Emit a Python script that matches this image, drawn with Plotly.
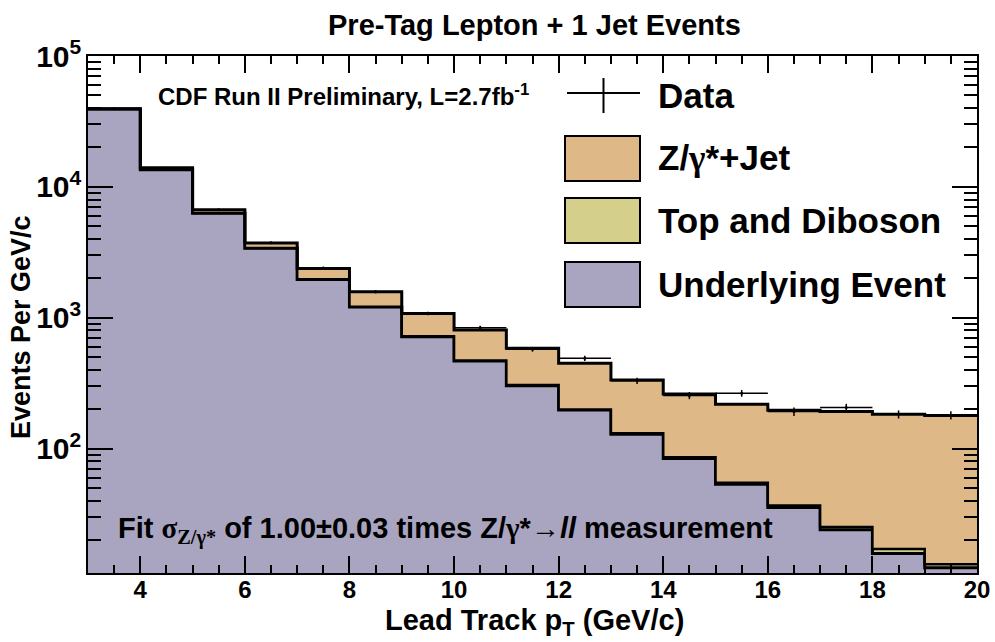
import plotly.graph_objects as go

# ---------------- data ----------------
bin_edges = [3, 4, 5, 6, 7, 8, 9, 10, 11, 12, 13, 14, 15, 16, 17, 18, 19, 20]
bin_centers = [3.5, 4.5, 5.5, 6.5, 7.5, 8.5, 9.5, 10.5, 11.5, 12.5, 13.5, 14.5,
               15.5, 16.5, 17.5, 18.5, 19.5]
underlying_event = [39300, 13500, 6300, 3400, 1960, 1210, 716, 467, 303, 197,
                    129, 84, 53.5, 35.5, 24, 15.8, 12.3]
top_diboson = [30, 20, 14, 10, 8, 6, 5, 4, 3, 2.5, 2, 1.8, 1.5, 1.3, 1.2, 1.3, 0.8]
z_jet = [250, 480, 386, 310, 412, 364, 359, 334, 278, 250, 203, 176, 163, 160,
         167, 166, 166]
data_vals = [39500, 13900, 6700, 3750, 2400, 1580, 1080, 840, 575, 490, 330,
             255, 265, 192, 206, 183, 180]
data_err = [200, 120, 80, 60, 50, 40, 33, 29, 24, 22, 18, 16, 16, 14, 14, 13, 13]

# ---------------- styles ----------------
C_UE = "#A9A5C0"
C_TD = "#D4CF8A"
C_Z = "#DEB887"
FONT = "Liberation Sans"
SERIF = "Liberation Serif"

# stacked cumulative values
cum_ue = list(underlying_event)
cum_td = [a + b for a, b in zip(cum_ue, top_diboson)]
cum_z = [a + b for a, b in zip(cum_td, z_jet)]


def step(vals):
    return list(vals) + [vals[-1]]


fig = go.Figure()
# baseline below the visible range for filling
fig.add_trace(go.Scatter(x=bin_edges, y=[1] * len(bin_edges), mode="lines",
                         line=dict(width=0, shape="hv"), hoverinfo="skip",
                         showlegend=False))
fig.add_trace(go.Scatter(x=bin_edges, y=step(cum_ue), mode="lines",
                         line=dict(color="black", width=3, shape="hv"),
                         fill="tonexty", fillcolor=C_UE, name="Underlying Event",
                         showlegend=False))
fig.add_trace(go.Scatter(x=bin_edges, y=step(cum_td), mode="lines",
                         line=dict(color="black", width=2.5, shape="hv"),
                         fill="tonexty", fillcolor=C_TD, name="Top and Diboson",
                         showlegend=False))
fig.add_trace(go.Scatter(x=bin_edges, y=step(cum_z), mode="lines",
                         line=dict(color="black", width=3, shape="hv"),
                         fill="tonexty", fillcolor=C_Z, name="Z/γ*+Jet",
                         showlegend=False))
fig.add_trace(go.Scatter(x=bin_centers, y=data_vals, mode="markers",
                         marker=dict(color="black", size=3),
                         error_x=dict(type="constant", value=0.5, width=0,
                                      thickness=1.5, color="black"),
                         error_y=dict(type="data", array=data_err, width=0,
                                      thickness=1.5, color="black"),
                         name="Data", showlegend=False))

# ---------------- layout ----------------
L, R, T, B = 88, 18, 56, 69
W, H = 995, 642
PW, PH = W - L - R, H - T - B


def px(xp):
    return (xp - L) / PW


def py(yp):
    return (H - B - yp) / PH


shapes = []
annotations = []

# legend
shapes.append(dict(type="line", xref="paper", yref="paper", x0=px(567), x1=px(640),
                   y0=py(93), y1=py(93), line=dict(color="black", width=2)))
shapes.append(dict(type="line", xref="paper", yref="paper", x0=px(603.5), x1=px(603.5),
                   y0=py(78), y1=py(113), line=dict(color="black", width=2)))
leg_boxes = [(136, 181, C_Z), (198, 243, C_TD), (262, 307, C_UE)]
for y0, y1, c in leg_boxes:
    shapes.append(dict(type="rect", xref="paper", yref="paper", x0=px(565), x1=px(640),
                       y0=py(y1), y1=py(y0), fillcolor=c,
                       line=dict(color="black", width=2)))
leg_texts = [("Data", 95),
             ("Z/<span style='font-family:Liberation Serif'>γ</span>*+Jet", 158),
             ("Top and Diboson", 220),
             ("Underlying Event", 284)]
for txt, yc in leg_texts:
    annotations.append(dict(text=txt, xref="paper", yref="paper", x=px(656), y=py(yc),
                            xanchor="left", yanchor="middle", showarrow=False,
                            font=dict(family=FONT, size=35, color="black",
                                      weight="bold")))

annotations.append(dict(text="CDF Run II Preliminary, L=2.7fb<sup>-1</sup>",
                        xref="paper", yref="paper", x=px(156), y=py(95),
                        xanchor="left", yanchor="middle", showarrow=False,
                        font=dict(family=FONT, size=24, color="black", weight="bold")))
annotations.append(dict(
    text=("Fit <span style='font-family:Liberation Serif'>σ</span>"
          "<sub><span style='font-family:Liberation Serif'>Z/γ*</span></sub>"
          " of 1.00±0.03 times Z/<span style='font-family:Liberation Serif'>γ</span>*"
          "<span style='font-family:Liberation Serif'>→</span><i>ll</i> measurement"),
    xref="paper", yref="paper", x=px(116), y=py(530),
    xanchor="left", yanchor="middle", showarrow=False,
    font=dict(family=FONT, size=29, color="black", weight="bold")))

annotations.append(dict(text="Pre-Tag Lepton + 1 Jet Events", xref="paper", yref="paper",
                        x=px(534), y=py(25), xanchor="center", yanchor="middle",
                        showarrow=False,
                        font=dict(family=FONT, size=29, color="black", weight="bold")))
annotations.append(dict(text="Lead Track p<sub>T</sub> (GeV/c)", xref="paper", yref="paper",
                        x=px(534), y=py(622), xanchor="center", yanchor="middle",
                        showarrow=False,
                        font=dict(family=FONT, size=29, color="black", weight="bold")))
annotations.append(dict(text="Events Per GeV/c", xref="paper", yref="paper",
                        x=px(21), y=py(327), xanchor="center", yanchor="middle",
                        textangle=-90, showarrow=False,
                        font=dict(family=FONT, size=27, color="black", weight="bold")))

fig.update_layout(
    width=W, height=H,
    margin=dict(l=L, r=R, t=T, b=B, pad=0),
    paper_bgcolor="white", plot_bgcolor="white",
    showlegend=False,
    shapes=shapes, annotations=annotations,
    xaxis=dict(range=[3, 20], tick0=0, dtick=2, ticks="inside", ticklen=17,
               tickwidth=1.5, tickcolor="black", showline=True, linecolor="black",
               linewidth=2, mirror="ticks", showgrid=False, zeroline=False,
               automargin=False, ticklabelstandoff=-6,
               tickfont=dict(family=FONT, size=24, color="black", weight="bold"),
               minor=dict(dtick=0.5, ticks="inside", ticklen=8, tickwidth=1.5,
                          tickcolor="black", showgrid=False)),
    yaxis=dict(type="log", range=[1.05, 5], dtick=1, exponentformat="power",
               ticks="inside", ticklen=25, tickwidth=1.5, tickcolor="black",
               showline=True, linecolor="black", linewidth=2, mirror="ticks",
               showgrid=False, zeroline=False, automargin=False,
               tickfont=dict(family=FONT, size=24, color="black", weight="bold"),
               minor=dict(dtick="D1", ticks="inside", ticklen=13, tickwidth=1.5,
                          tickcolor="black", showgrid=False)),
)

fig.write_html("out.html")
